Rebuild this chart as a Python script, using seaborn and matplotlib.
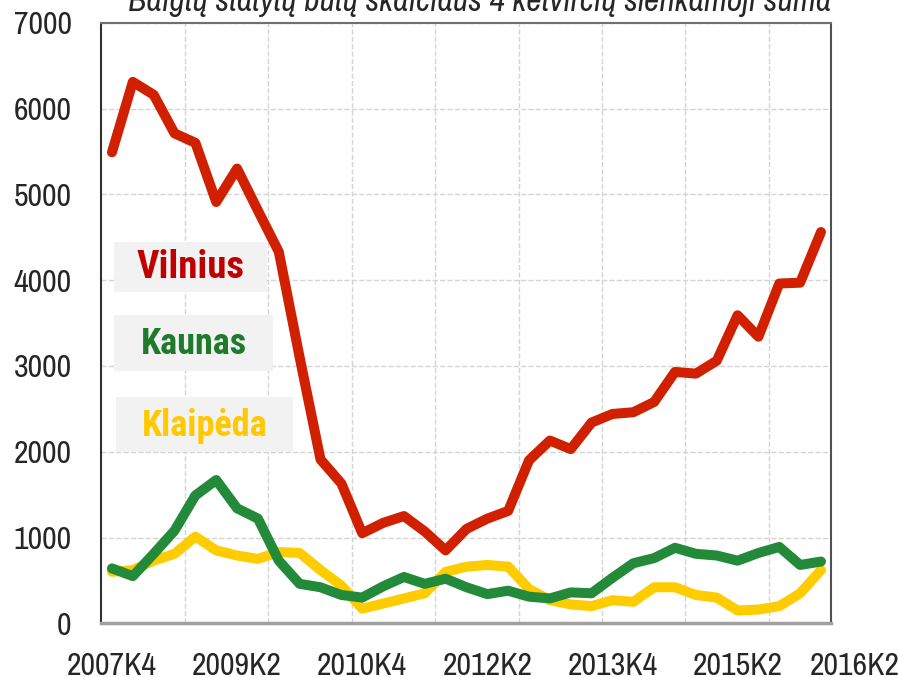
import pandas as pd
import seaborn as sns
import matplotlib.pyplot as plt
from matplotlib.patches import Rectangle

quarters = ['2007K4',
            '2008K1', '2008K2', '2008K3', '2008K4',
            '2009K1', '2009K2', '2009K3', '2009K4',
            '2010K1', '2010K2', '2010K3', '2010K4',
            '2011K1', '2011K2', '2011K3', '2011K4',
            '2012K1', '2012K2', '2012K3', '2012K4',
            '2013K1', '2013K2', '2013K3', '2013K4',
            '2014K1', '2014K2', '2014K3', '2014K4',
            '2015K1', '2015K2', '2015K3', '2015K4',
            '2016K1', '2016K2']

vilnius = [5490, 6310, 6160, 5710, 5600, 4910, 5300, 4810, 4330, 3100,
           1910, 1630, 1050, 1170, 1250, 1070, 850, 1100, 1220, 1310,
           1900, 2130, 2030, 2340, 2440, 2460, 2580, 2930, 2910, 3060,
           3590, 3340, 3960, 3970, 4560]
kaunas = [640, 550, 810, 1080, 1490, 1670, 1340, 1220, 730, 460,
          420, 330, 300, 430, 540, 460, 520, 420, 340, 380,
          310, 290, 360, 350, 530, 700, 760, 880, 810, 790,
          730, 820, 890, 680, 720]
klaipeda = [600, 620, 730, 810, 1010, 850, 790, 750, 830, 820,
            620, 440, 170, 230, 290, 350, 600, 660, 680, 660,
            400, 270, 220, 200, 270, 250, 420, 420, 330, 300,
            150, 160, 200, 350, 620]

cities = ['Vilnius', 'Klaipėda', 'Kaunas']
line_colors = {'Vilnius': '#d02000', 'Kaunas': '#238a3a', 'Klaipėda': '#ffcc00'}
text_colors = {'Vilnius': '#c00000', 'Kaunas': '#1f7a2e', 'Klaipėda': '#ffc800'}
tick_labels = ['2007K4', '2009K2', '2010K4', '2012K2', '2013K4', '2015K2']
last_label = '2016K2'
title = 'Baigtų statytų butų skaičiaus 4 ketvirčių slenkamoji suma'

values = {'Vilnius': vilnius, 'Kaunas': kaunas, 'Klaipėda': klaipeda}
df = pd.concat([pd.DataFrame({'i': range(len(quarters)), 'ketvirtis': quarters,
                              'butai': values[c], 'miestas': c}) for c in cities])

sns.set_style('white')
plt.rcParams['font.family'] = ['Archivo Narrow', 'Liberation Sans', 'DejaVu Sans']
bold_fonts = ['Roboto Condensed', 'IBM Plex Sans Condensed', 'Liberation Sans', 'DejaVu Sans']

fig = plt.figure(figsize=(8.98, 6.77), dpi=100)
ax = fig.add_axes([100.7 / 898, 1 - 623.3 / 677, (831 - 100.7) / 898, (623.3 - 22.7) / 677])

sns.lineplot(data=df, x='i', y='butai', hue='miestas', hue_order=cities,
             palette=line_colors, linewidth=7.2, legend=False, ax=ax,
             solid_capstyle='round', zorder=3)

ax.set_xlim(-0.54, 34.48)
ax.set_ylim(0, 7000)
ax.set_yticks(range(0, 7001, 1000))
ax.set_xticks(range(0, 31, 6))
ax.set_xticklabels(tick_labels)
ax.set_xticks([3.5 + 4 * k for k in range(8)], minor=True)
ax.set_xlabel('')
ax.set_ylabel('')
ax.tick_params(axis='both', which='both', length=0, labelsize=23)
ax.tick_params(axis='y', pad=21)
ax.tick_params(axis='x', pad=20.5)
ax.grid(True, axis='y', color='#d4d4d4', linestyle='--', linewidth=1)
ax.grid(True, axis='x', which='minor', color='#d4d4d4', linestyle='--', linewidth=1)
ax.grid(False, axis='x', which='major')

ax.text(35.6, -29 / 600.6, last_label, transform=ax.get_xaxis_transform(),
        ha='center', va='top', fontsize=23, clip_on=False)

ax.spines['left'].set_color('#303030')
ax.spines['left'].set_linewidth(1.5)
ax.spines['bottom'].set_color('#a0a0a0')
ax.spines['bottom'].set_linewidth(2.5)
ax.spines['top'].set_color('#707070')
ax.spines['top'].set_linewidth(1.5)
ax.spines['right'].set_color('#505050')
ax.spines['right'].set_linewidth(1.5)

fig.text(480 / 898, 1 - 11 / 677, title, ha='center', va='baseline',
         fontsize=24.2, style='italic')

# label boxes instead of a legend
boxes = {'Vilnius': (114, 242, 267, 292, 28),
         'Kaunas': (114, 315, 273, 371, 26),
         'Klaipėda': (116, 397, 293, 452, 26)}
for c, (x1, y1, x2, y2, fs) in boxes.items():
    fig.add_artist(Rectangle((x1 / 898, 1 - y2 / 677), (x2 - x1) / 898, (y2 - y1) / 677,
                             transform=fig.transFigure, facecolor='#f2f2f2',
                             edgecolor='none', zorder=2))
    fig.text((x1 + x2) / 2 / 898, 1 - ((y1 + y2) / 2 + 1) / 677, c, ha='center', va='center',
             fontsize=fs, fontweight='bold', color=text_colors[c], zorder=4,
             family=bold_fonts)

fig.savefig('out.png', dpi=100)
